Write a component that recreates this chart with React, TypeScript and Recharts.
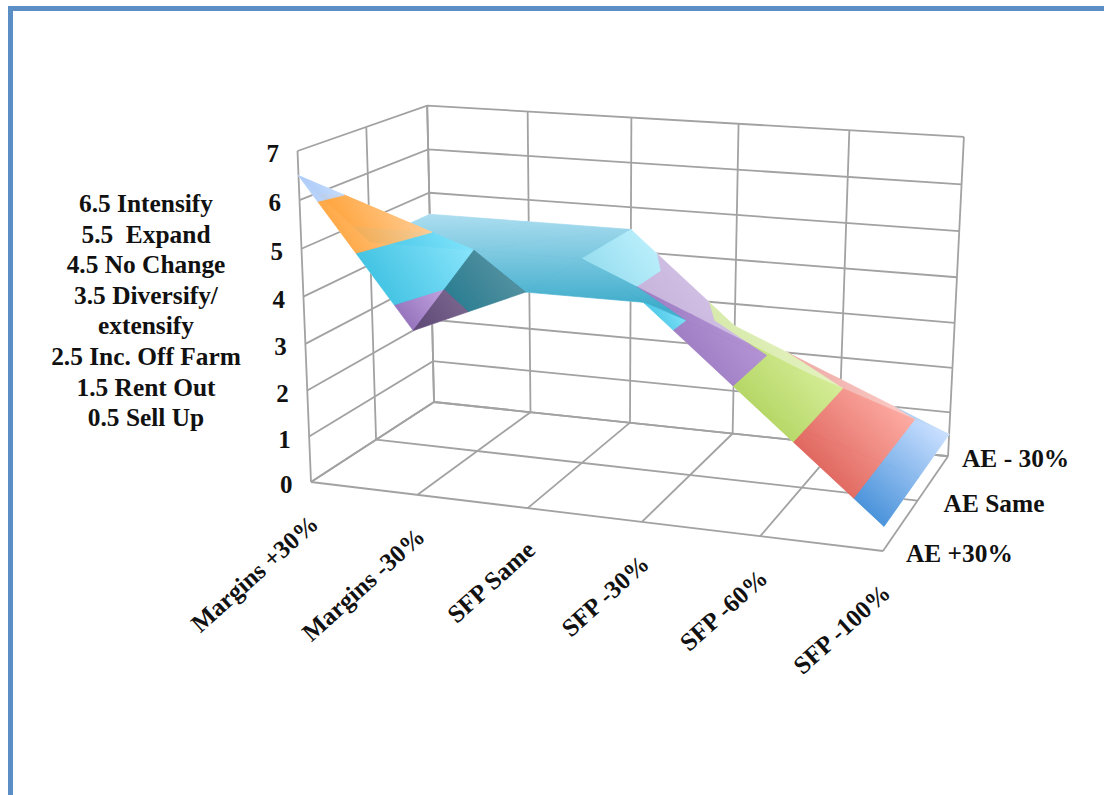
import { ScatterChart, Scatter, XAxis, YAxis } from 'recharts';

// ---------------------------------------------------------------------------
// Data
// ---------------------------------------------------------------------------

const scenarios = ['Margins +30%', 'Margins -30%', 'SFP Same', 'SFP -30%', 'SFP -60%', 'SFP -100%'];
const aeLevels = ['AE +30%', 'AE Same', 'AE - 30%'];
const zTicks = [0, 1, 2, 3, 4, 5, 6, 7];

const aePlus30 = [6.5, 3.5, 4.5, 4.5, 2.5, 0.5];
const aeSame = [4.5, 4.5, 4.5, 3.5, 2.5, 0.5];
const aeMinus30 = [4.5, 4.5, 4.5, 2.5, 1.5, 0.5];
const surfaceRows = [aePlus30, aeSame, aeMinus30];

const responseKey = [
  '6.5 Intensify',
  '5.5  Expand',
  '4.5 No Change',
  '3.5 Diversify/',
  'extensify',
  '2.5 Inc. Off Farm',
  '1.5 Rent Out',
  '0.5 Sell Up',
];

// dark / light stop of each one-unit band, from z 0-1 upward
const bandColors: [string, string][] = [
  ['#3f8cd8', '#c4dcff'],
  ['#d9534a', '#ffa9a0'],
  ['#a9cf50', '#d9f09a'],
  ['#8a66b5', '#b795d8'],
  ['#2fbcdf', '#7fe2fb'],
  ['#ff9f32', '#ffcf99'],
  ['#a9c9f8', '#c9defc'],
];

// ---------------------------------------------------------------------------
// Perspective box: axis end points on the page and their homogeneous weights
// ---------------------------------------------------------------------------

const W = 1104;
const H = 795;
const ORIGIN = [311, 482];
const X_END = [883, 551];
const DEPTH_END = [434, 402];
const Z_END = [297.5, 151];
const X_W = 0.915;
const DEPTH_W = 1.1235;
const Z_W = 0.955;
const Z_MAX = 7;

type Pt = { px: number; py: number };
type V3 = [number, number, number]; // column, row, z

function project(col: number, row: number, z: number): Pt {
  const u = col / (scenarios.length - 1);
  const v = row / (aeLevels.length - 1);
  const w = z / Z_MAX;
  const d = 1 + u * (X_W - 1) + v * (DEPTH_W - 1) + w * (Z_W - 1);
  const axis = (k: number) =>
    (ORIGIN[k] +
      u * (X_W * X_END[k] - ORIGIN[k]) +
      v * (DEPTH_W * DEPTH_END[k] - ORIGIN[k]) +
      w * (Z_W * Z_END[k] - ORIGIN[k])) /
    d;
  return { px: axis(0), py: axis(1) };
}

// ---------------------------------------------------------------------------
// Surface: split each cell on its higher diagonal, cut the facets into bands
// ---------------------------------------------------------------------------

function clipZ(poly: V3[], limit: number, keepAbove: boolean): V3[] {
  const out: V3[] = [];
  poly.forEach((p, i) => {
    const q = poly[(i + 1) % poly.length];
    const pIn = keepAbove ? p[2] >= limit : p[2] <= limit;
    const qIn = keepAbove ? q[2] >= limit : q[2] <= limit;
    if (pIn) out.push(p);
    if (pIn !== qIn) {
      const t = (limit - p[2]) / (q[2] - p[2]);
      out.push([p[0] + t * (q[0] - p[0]), p[1] + t * (q[1] - p[1]), limit]);
    }
  });
  return out;
}

function mix(hex: string, target: number, amount: number): string {
  const n = parseInt(hex.slice(1), 16);
  const ch = [(n >> 16) & 255, (n >> 8) & 255, n & 255].map((c) => Math.round(c + (target - c) * amount));
  return `rgb(${ch[0]},${ch[1]},${ch[2]})`;
}

function facetsOfCell(col: number, row: number): V3[][] {
  const node = (c: number, r: number): V3 => [c, r, surfaceRows[r][c]];
  const a = node(col, row);
  const b = node(col + 1, row);
  const c = node(col + 1, row + 1);
  const d = node(col, row + 1);
  // back facet first so the front one paints over it
  return a[2] + c[2] >= b[2] + d[2] ? [[a, c, d], [a, b, c]] : [[b, c, d], [a, b, d]];
}

function facetSlopes(t: V3[]): { du: number; dv: number } {
  const [p, q, r] = t;
  const e1 = [q[0] - p[0], q[1] - p[1], q[2] - p[2]];
  const e2 = [r[0] - p[0], r[1] - p[1], r[2] - p[2]];
  const det = e1[0] * e2[1] - e1[1] * e2[0];
  return { du: (e1[2] * e2[1] - e1[1] * e2[2]) / det, dv: (e1[0] * e2[2] - e1[2] * e2[0]) / det };
}

interface BandPiece {
  key: string;
  band: number;
  gradient: string;
  shade: number;
  points: Pt[];
}

// rear-row facets falling to the right catch the light, facets rising both ways sit in shadow
function shadeOf(row: number, du: number, dv: number): number {
  if (du > 0) return -0.38;
  if (row > 0 && du < 0 && (dv < 0 || du >= -1)) return 0.45;
  return 0;
}

const pieces: BandPiece[] = [];
for (let row = aeLevels.length - 2; row >= 0; row--) {
  for (let col = 0; col < scenarios.length - 1; col++) {
    facetsOfCell(col, row).forEach((facet, f) => {
      const { du, dv } = facetSlopes(facet);
      bandColors.forEach((_, band) => {
        const cut = clipZ(clipZ(facet, band, true), band + 1, false);
        if (cut.length < 3) return;
        const flat = du === 0 && dv === 0;
        // the front row's rear facets carry on the plateau's shading
        const joinsPlateau = band === 4 && row === 0 && du < 0 && dv < 0;
        const shade = shadeOf(row, du, dv);
        const side = col < 2 ? 'left' : 'right';
        pieces.push({
          key: `${row}-${col}-${f}-${band}`,
          band,
          gradient: flat || joinsPlateau ? 'plateau' : `band-${band}-${side}-${shade < 0 ? 'dark' : shade > 0 ? 'lit' : 'main'}`,
          shade,
          points: cut.map((p) => project(p[0], p[1], p[2])),
        });
      });
    });
  }
}

// one gradient per shaded group, running corner to corner across the group's pieces
const gradientIds = [...new Set(pieces.map((p) => p.gradient))].filter((id) => id !== 'plateau');
const gradients = gradientIds.map((id) => {
  const group = pieces.filter((p) => p.gradient === id);
  const pts = group.flatMap((p) => p.points);
  const shade = group[0].shade;
  const colors = bandColors[group[0].band];
  const target = shade >= 0 ? 255 : 0;
  return {
    id,
    x1: Math.min(...pts.map((p) => p.px)),
    y1: Math.max(...pts.map((p) => p.py)),
    x2: Math.max(...pts.map((p) => p.px)),
    y2: Math.min(...pts.map((p) => p.py)),
    from: mix(colors[0], target, Math.abs(shade)),
    to: mix(colors[1], target, Math.abs(shade)),
  };
});

// ---------------------------------------------------------------------------
// Box grid
// ---------------------------------------------------------------------------

const lastCol = scenarios.length - 1;
const lastRow = aeLevels.length - 1;
const gridLines: Pt[][] = [];
zTicks.forEach((z) => {
  gridLines.push([project(0, 0, z), project(0, lastRow, z), project(lastCol, lastRow, z)]);
});
scenarios.forEach((_, c) => {
  gridLines.push([project(c, lastRow, 0), project(c, lastRow, Z_MAX)]);
  gridLines.push([project(c, 0, 0), project(c, lastRow, 0)]);
});
aeLevels.forEach((_, r) => {
  gridLines.push([project(0, r, 0), project(0, r, Z_MAX)]);
  gridLines.push([project(0, r, 0), project(lastCol, r, 0)]);
});

// ---------------------------------------------------------------------------
// Axis labels
// ---------------------------------------------------------------------------

const FONT = '"Liberation Serif", serif';
const aeLabelGap = [23, 26, 14];

const zLabels = zTicks.map((z) => {
  const p = project(0, 0, z);
  return { px: p.px - 31, py: p.py + 11, label: String(z) };
});
const scenarioLabels = scenarios.map((label, c) => {
  const p = project(c, 0, 0);
  return { px: p.px + 9, py: p.py + 44, label };
});
const aeLabels = aeLevels.map((label, r) => {
  const p = project(lastCol, r, 0);
  return { px: p.px + aeLabelGap[r], py: p.py + 11, label };
});

const hidden = () => <g />;

function textShape(anchor: 'start' | 'middle' | 'end', rotate: number, size: number) {
  return (props: { cx?: number; cy?: number; payload?: { label: string } }) => (
    <text
      x={props.cx}
      y={props.cy}
      textAnchor={anchor}
      fontFamily={FONT}
      fontWeight="bold"
      fontSize={size}
      fill="#111"
      transform={rotate ? `rotate(${rotate} ${props.cx} ${props.cy})` : undefined}
    >
      {props.payload?.label}
    </text>
  );
}

// ---------------------------------------------------------------------------
// Component
// ---------------------------------------------------------------------------

export default function App() {
  return (
    <div style={{ position: 'fixed', inset: 0, overflow: 'hidden', background: '#fff' }}>
      <div
        style={{
          position: 'absolute',
          left: 8,
          top: 6,
          width: W,
          height: H,
          borderTop: '5px solid #5b8ec4',
          borderLeft: '5px solid #5b8ec4',
        }}
      />
      <div
        style={{
          position: 'absolute',
          left: 26,
          top: 188,
          width: 240,
          textAlign: 'center',
          whiteSpace: 'pre',
          fontFamily: FONT,
          fontWeight: 'bold',
          fontSize: 25.4,
          lineHeight: '30.6px',
          color: '#111',
        }}
      >
        {responseKey.map((line) => (
          <div key={line}>{line}</div>
        ))}
      </div>
      <div style={{ position: 'absolute', left: 0, top: 0 }}>
        <ScatterChart width={W} height={H} margin={{ top: 0, right: 0, bottom: 0, left: 0 }}>
          <defs>
            <linearGradient id="plateau" gradientUnits="userSpaceOnUse" x1="0" y1="214" x2="0" y2="302">
              <stop offset="0%" stopColor="#a6dbef" />
              <stop offset="100%" stopColor="#36a9c9" />
            </linearGradient>
            {gradients.map((g) => (
              <linearGradient key={g.id} id={g.id} gradientUnits="userSpaceOnUse" x1={g.x1} y1={g.y1} x2={g.x2} y2={g.y2}>
                <stop offset="15%" stopColor={g.from} />
                <stop offset="90%" stopColor={g.to} />
              </linearGradient>
            ))}
          </defs>
          <XAxis type="number" dataKey="px" domain={[0, W]} hide />
          <YAxis type="number" dataKey="py" domain={[0, H]} reversed hide />

          {/* walls and floor */}
          {gridLines.map((line, i) => (
            <Scatter
              key={`grid-${i}`}
              data={line}
              line={{ stroke: '#a2a2a2', strokeWidth: 1.8, fill: 'none' }}
              shape={hidden}
              isAnimationActive={false}
            />
          ))}

          {/* white base keeps the grid from showing through the surface */}
          {pieces.map((p) => (
            <Scatter
              key={`base-${p.key}`}
              data={[...p.points, p.points[0]]}
              line={{ stroke: '#fff', strokeWidth: 0.6, fill: '#fff' }}
              shape={hidden}
              isAnimationActive={false}
            />
          ))}

          {/* colour bands */}
          {pieces.map((p) => (
            <Scatter
              key={p.key}
              data={[...p.points, p.points[0]]}
              line={{
                stroke: `url(#${p.gradient})`,
                strokeWidth: 0.7,
                strokeOpacity: 0.93,
                fill: `url(#${p.gradient})`,
                fillOpacity: 0.93,
              }}
              shape={hidden}
              isAnimationActive={false}
            />
          ))}

          <Scatter data={zLabels} shape={textShape('start', 0, 25)} isAnimationActive={false} />
          <Scatter data={scenarioLabels} shape={textShape('end', -42, 25)} isAnimationActive={false} />
          <Scatter data={aeLabels} shape={textShape('start', 0, 25.4)} isAnimationActive={false} />
        </ScatterChart>
      </div>
    </div>
  );
}
